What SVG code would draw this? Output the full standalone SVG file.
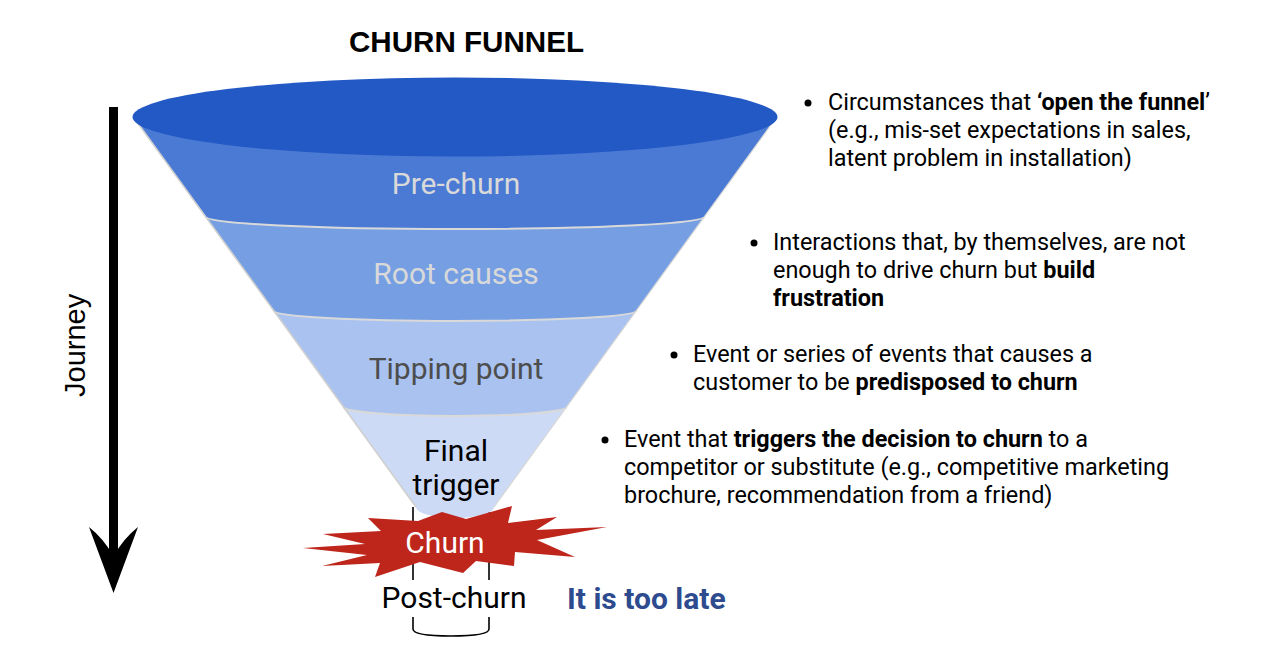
<svg xmlns="http://www.w3.org/2000/svg" width="1286" height="662" viewBox="0 0 1286 662">
<style>
.lbl{font-family:Roboto,"Liberation Sans",sans-serif;font-size:30px;text-anchor:middle}
.txt{font-family:Roboto,"Liberation Sans",sans-serif;font-size:23.4px;fill:#000}
.b{font-weight:bold}
.sep{fill:none;stroke:#d9d9d9;stroke-width:2}
</style>
<rect width="1286" height="662" fill="#fff"/>
<text x="466.5" y="52" font-family="'Liberation Sans',Arial,sans-serif" font-size="29.6" font-weight="bold" text-anchor="middle" fill="#000">CHURN FUNNEL</text>

<g id="journey">
<rect x="109" y="107" width="9" height="450" fill="#000"/>
<path d="M113.5,593 L138,527 Q124,538 113.5,556 Q103,538 89,527 Z" fill="#000"/>
<text transform="translate(85,397) rotate(-90)" font-family="'Liberation Sans',Arial,sans-serif" font-size="29" fill="#000">Journey</text>
</g>

<g id="connectors">
<line x1="413" y1="507" x2="413" y2="580" stroke="#000" stroke-width="1.6"/>
<line x1="489" y1="507" x2="489" y2="580" stroke="#000" stroke-width="1.6"/>
<path d="M413,617 L413,629 Q413,636 451,636 Q489,636 489,629 L489,617" fill="none" stroke="#000" stroke-width="1.6"/>
</g>

<g id="funnel">
<path id="final-trigger" d="M133,116 L416,507 A39 11 0 0 0 494,507 L777,116 Z" fill="#CCDAF5"/>
<path id="tipping-point" d="M133,116 L343.6,407 A111.4 9 0 0 0 566.4,407 L777,116 Z" fill="#A9C2EF"/>
<path id="root-causes" d="M133,116 L274,311 A181 10 0 0 0 636,311 L777,116 Z" fill="#769FE3"/>
<path id="pre-churn" d="M133,116 L206.4,217 A248.6 12 0 0 0 703.6,217 L777,116 Z" fill="#4A7AD4"/>
<path class="sep" d="M206.4,217 A248.6 12 0 0 0 703.6,217"/>
<path class="sep" d="M274,311 A181 10 0 0 0 636,311"/>
<path class="sep" d="M343.6,407 A111.4 9 0 0 0 566.4,407"/>
<path d="M137,122 L416,507" stroke="#cfcfcf" stroke-width="1.6" fill="none"/>
<path d="M773,122 L494,507" stroke="#d6d6d6" stroke-width="1.2" fill="none"/>
<ellipse cx="455" cy="117" rx="322.5" ry="39.5" fill="#2359C4"/>
<text class="lbl" x="456" y="194" fill="#d9d9d9">Pre-churn</text>
<text class="lbl" x="456" y="284" fill="#d9d9d9">Root causes</text>
<text class="lbl" x="456" y="379" fill="#4d4d4d">Tipping point</text>
<text class="lbl" x="456" y="461" fill="#000">Final</text>
<text class="lbl" x="456" y="495" fill="#000">trigger</text>
</g>

<g id="churn">
<polygon points="303,548 365,544 323,534 381,531 368,518 418,521 442,512 466,519 512,506 508,523 557,517 536,530 607,527 537,540 575,557 515,552 514,566 476,561 463,573 420,562 375,577 380,563 322,566 367,555" fill="#BE261C"/>
<text class="lbl" x="445" y="553" fill="#fff">Churn</text>
</g>

<g id="post-churn">
<text class="lbl" x="454" y="608" fill="#000">Post-churn</text>
<text x="567" y="609" font-family="Roboto,'Liberation Sans',sans-serif" font-size="30" font-weight="bold" fill="#2D4B8E">It is too late</text>
</g>

<g id="notes">
<g id="note1">
<circle cx="808" cy="103" r="3.5" fill="#000"/>
<text class="txt" x="828" y="110">Circumstances that <tspan class="b">‘open the funnel</tspan>’</text>
<text class="txt" x="828" y="138">(e.g., mis-set expectations in sales,</text>
<text class="txt" x="828" y="166">latent problem in installation)</text>
</g>
<g id="note2">
<circle cx="754" cy="243" r="3.5" fill="#000"/>
<text class="txt" x="773" y="250">Interactions that, by themselves, are not</text>
<text class="txt" x="773" y="278">enough to drive churn but <tspan class="b">build</tspan></text>
<text class="txt" x="773" y="306" font-weight="bold">frustration</text>
</g>
<g id="note3">
<circle cx="674" cy="355" r="3.5" fill="#000"/>
<text class="txt" x="693" y="362">Event or series of events that causes a</text>
<text class="txt" x="693" y="390">customer to be <tspan class="b">predisposed to churn</tspan></text>
</g>
<g id="note4">
<circle cx="605" cy="440" r="3.5" fill="#000"/>
<text class="txt" x="624" y="447">Event that <tspan class="b">triggers the decision to churn</tspan> to a</text>
<text class="txt" x="624" y="475">competitor or substitute (e.g., competitive marketing</text>
<text class="txt" x="624" y="503">brochure, recommendation from a friend)</text>
</g>
</g>
</svg>
